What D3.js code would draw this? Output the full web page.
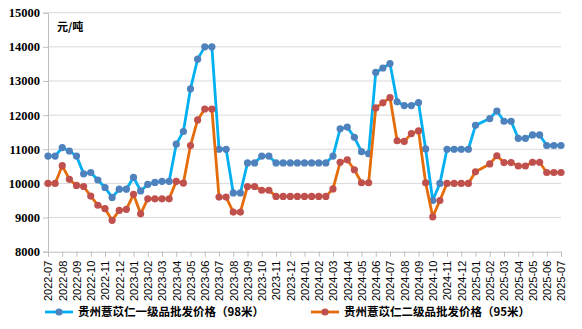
<!DOCTYPE html>
<html>
<head>
<meta charset="utf-8">
<script src="https://cdn.jsdelivr.net/npm/d3@7"></script>
<style>
  html, body { margin: 0; padding: 0; background: #fff; }
  svg { display: block; }
</style>
</head>
<body>
<svg id="chart" width="582" height="329"></svg>
<script>
// Month labels on the category axis
const monthLabels = [
  "2022-07", "2022-08", "2022-09", "2022-10", "2022-11", "2022-12",
  "2023-01", "2023-02", "2023-03", "2023-04", "2023-05", "2023-06",
  "2023-07", "2023-08", "2023-09", "2023-10", "2023-11", "2023-12",
  "2024-01", "2024-02", "2024-03", "2024-04", "2024-05", "2024-06",
  "2024-07", "2024-08", "2024-09", "2024-10", "2024-11", "2024-12",
  "2025-01", "2025-02", "2025-03", "2025-04", "2025-05", "2025-06",
  "2025-07"
];

// Semi-monthly price points: first half (上) and second half (下) of each month
const periods = [];
monthLabels.forEach((m, i) => {
  periods.push(m + "-上");
  if (i < monthLabels.length - 1) periods.push(m + "-下");
});

// 贵州薏苡仁一级品批发价格（98米），元/吨 (null = no quote that period)
const grade1 = [
  10800, 10800, 11050, 10950, 10800, 10280, 10320, 10100, 9880, 9590,
  9830, 9830, 10180, 9780, 9970, 10030, 10060, 10060, 11150, 11520,
  12770, 13640, 14000, 14000, 11000, 11000, 9720, 9720, 10600, 10600,
  10800, 10800, 10600, 10600, 10600, 10600, 10600, 10600, 10600, 10600,
  10800, 11600, 11650, 11350, 10930, 10870, 13250, 13380, 13510, 12390,
  12280, 12280, 12370, 11010, 9500, 10000, 11000, 11000, 11000, 11000,
  11700, null, 11900, 12120, 11820, 11820, 11320, 11320, 11420, 11420,
  11110, 11110, 11110
];

// 贵州薏苡仁二级品批发价格（95米），元/吨
const grade2 = [
  10000, 10000, 10520, 10120, 9940, 9910, 9630, 9360, 9260, 8920,
  9210, 9240, 9680, 9110, 9550, 9550, 9550, 9550, 10060, 10010,
  11110, 11860, 12180, 12180, 9600, 9600, 9160, 9160, 9910, 9910,
  9800, 9800, 9620, 9620, 9620, 9620, 9620, 9620, 9620, 9620,
  9840, 10620, 10690, 10400, 10020, 10020, 12210, 12360, 12510, 11250,
  11230, 11460, 11540, 10020, 9020, 9500, 10000, 10000, 10000, 10000,
  10340, null, 10570, 10810, 10610, 10610, 10510, 10510, 10620, 10620,
  10320, 10320, 10320
];

const yTicks = [8000, 9000, 10000, 11000, 12000, 13000, 14000, 15000];
const unitLabel = "元/吨";
const seriesNames = ["贵州薏苡仁一级品批发价格（98米）", "贵州薏苡仁二级品批发价格（95米）"];

const svg = d3.select("#chart");
const plotLeft = 48, plotRight = 561, plotTop = 12.7, plotBottom = 251.7;

const x = d3.scalePoint().domain(periods).range([plotLeft, plotRight]);
const y = d3.scaleLinear().domain([8000, 15000]).range([plotBottom, plotTop]);

// Horizontal gridlines
svg.append("g")
  .selectAll("line")
  .data(yTicks.filter(t => t > 8000))
  .join("line")
  .attr("x1", plotLeft).attr("x2", plotRight)
  .attr("y1", d => y(d)).attr("y2", d => y(d))
  .attr("stroke", "#d9d9d9").attr("stroke-width", 1);

// Y axis
const yAxis = svg.append("g")
  .attr("transform", `translate(${plotLeft},0)`)
  .call(d3.axisLeft(y).tickValues(yTicks).tickFormat(d3.format("d")).tickSize(5).tickPadding(3));
yAxis.select(".domain").attr("stroke", "#bfbfbf");
yAxis.selectAll(".tick line").attr("stroke", "#bfbfbf");
yAxis.selectAll("text")
  .attr("font-family", "'Liberation Serif', 'Times New Roman', serif")
  .attr("font-weight", "bold")
  .attr("font-size", "12.5px")
  .attr("fill", "#000");

// X axis: one tick per month, at the first-half point
const xAxis = svg.append("g")
  .attr("transform", `translate(0,${plotBottom})`)
  .call(d3.axisBottom(x)
    .tickValues(monthLabels.map(m => m + "-上"))
    .tickFormat(p => p.slice(0, 7))
    .tickSize(5).tickPadding(3));
xAxis.select(".domain").attr("stroke", "#bfbfbf");
xAxis.selectAll(".tick line").attr("stroke", "#bfbfbf");
xAxis.selectAll("text")
  .attr("font-family", "'Liberation Sans', Arial, sans-serif")
  .attr("font-size", "11px")
  .attr("fill", "#000")
  .attr("transform", "rotate(-90)")
  .attr("text-anchor", "end")
  .attr("x", -9)
  .attr("y", 0)
  .attr("dy", "0.35em");

// Unit label
svg.append("text")
  .attr("x", 57).attr("y", 31)
  .attr("font-family", "'Noto Sans CJK SC', sans-serif")
  .attr("font-weight", "bold")
  .attr("font-size", "11px")
  .attr("fill", "#000")
  .text(unitLabel);

const series = [
  { name: seriesNames[0], values: grade1, line: "#00b0f0", marker: "#4f81bd" },
  { name: seriesNames[1], values: grade2, line: "#e46c0a", marker: "#c0504d" }
];

const line = d3.line().x(d => x(d.p)).y(d => y(d.v));

series.forEach(s => {
  const pts = periods.map((p, i) => ({ p, v: s.values[i] })).filter(d => d.v != null);
  const g = svg.append("g");
  g.append("path")
    .datum(pts)
    .attr("d", line)
    .attr("fill", "none")
    .attr("stroke", s.line)
    .attr("stroke-width", 2.8)
    .attr("stroke-linejoin", "round");
  g.selectAll("circle")
    .data(pts)
    .join("circle")
    .attr("cx", d => x(d.p))
    .attr("cy", d => y(d.v))
    .attr("r", 3.6)
    .attr("fill", s.marker);
});

// Legend
const legendItems = [
  { x0: 45, ...series[0] },
  { x0: 311, ...series[1] }
];
const lg = svg.append("g");
legendItems.forEach(it => {
  lg.append("line")
    .attr("x1", it.x0).attr("x2", it.x0 + 28)
    .attr("y1", 312).attr("y2", 312)
    .attr("stroke", it.line).attr("stroke-width", 2.8);
  lg.append("circle")
    .attr("cx", it.x0 + 14).attr("cy", 312).attr("r", 3.6)
    .attr("fill", it.marker);
  lg.append("text")
    .attr("x", it.x0 + 33).attr("y", 316)
    .attr("font-family", "'Noto Sans CJK SC', sans-serif")
    .attr("font-weight", "bold")
    .attr("font-size", "11.5px")
    .attr("fill", "#000")
    .text(it.name);
});
</script>
</body>
</html>
